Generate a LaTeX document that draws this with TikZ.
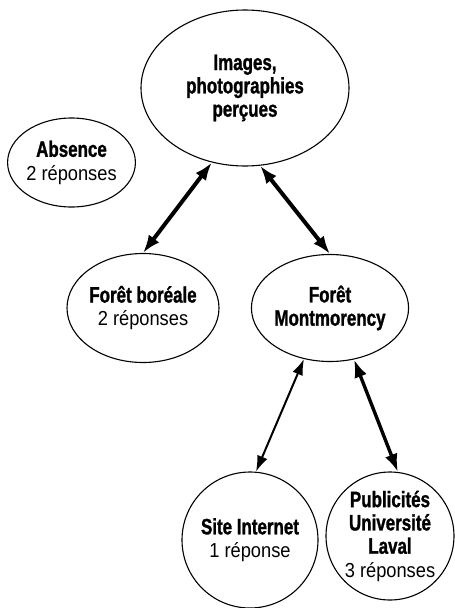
\documentclass[tikz,border=0pt]{standalone}
\usepackage{fontspec}
\setmainfont{Liberation Sans}
\newfontfamily\bfam{Liberation Sans}[FakeStretch=0.76,FakeBold=1.2]
\newfontfamily\rfam{Liberation Sans}[FakeStretch=0.9]
\usetikzlibrary{arrows.meta,shapes.geometric}
\newcommand{\bt}[1]{{\bfam\bfseries\fontsize{22.3}{23.3}\selectfont #1}}
\newcommand{\rt}[1]{{\rfam\fontsize{20.3}{23.3}\selectfont #1}}
\begin{document}
\begin{tikzpicture}[x=1pt,y=-1pt,
  bub/.style={draw,ellipse,line width=1.1pt,inner sep=0pt,align=center,font=\fontsize{20}{23.3}\selectfont},
  dbl/.style={{Latex[length=18pt,width=13pt]}-{Latex[length=18pt,width=13pt]},line width=4pt},
  thn/.style={{Latex[length=16pt,width=11pt]}-{Latex[length=16pt,width=11pt]},line width=2pt}]
\useasboundingbox (0,0) rectangle (455,608);
\node[bub,minimum width=208pt,minimum height=156pt] (img) at (245,88) {\bt{Images,}\\\bt{photographies}\\\bt{perçues}};
\node[bub,minimum width=113pt,minimum height=89pt] (abs) at (71.5,162.5) {\bt{Absence}\\\rt{2 réponses}};
\node[bub,minimum width=152pt,minimum height=109pt] (bor) at (143,308) {\bt{Forêt boréale}\\\rt{2 réponses}};
\node[bub,minimum width=154pt,minimum height=107pt] (mon) at (330,308) {\bt{Forêt}\\\bt{Montmorency}};
\node[bub,circle,minimum size=136pt] (site) at (250,540) {\bt{Site Internet}\\\rt{1 réponse}};
\node[bub,circle,minimum size=128pt] (pub) at (390,536) {\bt{Publicités}\\\bt{Université}\\\bt{Laval}\\\rt{3 réponses}};
\draw[dbl] (img.246) -- (bor.north);
\draw[dbl] (img.281) -- (mon.north);
\draw[thn] (mon.243) -- (site.85);
\draw[dbl,line width=3.4pt] (mon.295) -- (pub.83);
\end{tikzpicture}
\end{document}
